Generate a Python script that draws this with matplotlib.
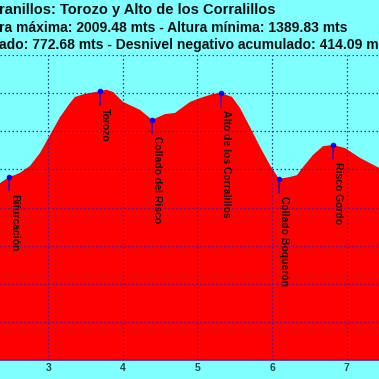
import matplotlib
matplotlib.use("Agg")
import matplotlib.pyplot as plt

plt.rcParams['font.family'] = ['Liberation Sans', 'DejaVu Sans']

# perfil: distancia (km) y altura (m)
distance = [2.30, 2.353, 2.474, 2.55, 2.62, 2.755, 2.889, 3.023, 3.157, 3.291,
            3.358, 3.492, 3.694, 3.78, 3.868, 4.002, 4.230, 4.391, 4.565, 4.699,
            4.900, 5.034, 5.208, 5.316, 5.463, 5.570, 5.704, 5.838, 5.972, 6.093,
            6.240, 6.334, 6.415, 6.549, 6.683, 6.817, 6.978, 7.179, 7.433, 7.50]
elevation = [1752, 1764, 1780, 1785, 1791, 1809, 1843, 1890, 1937, 1974,
             1990, 1998, 2005, 2009, 2003, 1977, 1956, 1930, 1945, 1948,
             1977, 1987, 1998, 2000, 1990, 1961, 1911, 1859, 1811, 1775,
             1780, 1785, 1806, 1838, 1861, 1864, 1856, 1830, 1804, 1795]

# puntos de paso
wp_names = ["Bifurcación", "Torozo", "Collado del Risco",
            "Alto de los Corralillos", "Collado Boquerón", "Risco Gordo"]
wp_dist = [2.474, 3.694, 4.391, 5.316, 6.093, 6.817]
wp_elev = [1780, 2005, 1930, 2000, 1775, 1864]

title_lines = [
    "ranillos: Torozo y Alto de los Corralillos",
    "ra máxima: 2009.48 mts - Altura mínima: 1389.83 mts",
    "ado: 772.68 mts - Desnivel negativo acumulado: 414.09 m",
]
title_sizes = [10.5, 10, 10]
x_ticks = [3, 4, 5, 6, 7]

bg = "#80ffff"
fig = plt.figure(figsize=(3.79, 3.79), dpi=100, facecolor=bg)
ax = fig.add_axes([0, 19 / 379, 1, 305 / 379])
ax.set_facecolor(bg)

ax.fill_between(distance, elevation, 1300, color="#ff0000", lw=0, zorder=1)
ax.set_xlim(2.353, 7.433)
ax.set_ylim(1300, 2100)

ax.set_xticks(x_ticks)
ax.set_yticks(range(1300, 2101, 100))
ax.grid(True, color="#2020e0", linestyle=(0, (1.2, 2)), lw=0.9, zorder=2)
ax.set_axisbelow(False)
ax.tick_params(length=0, labelsize=7.5, labelcolor="#1e4a4a", pad=2)
for lab in ax.get_xticklabels():
    lab.set_fontweight("bold")
ax.tick_params(axis="y", labelleft=False)
for side in ["top", "left", "right"]:
    ax.spines[side].set_visible(False)
ax.spines["bottom"].set_color("#5028a0")
ax.spines["bottom"].set_linewidth(1.2)

ax.scatter(wp_dist, wp_elev, s=9, color="#0000ff", zorder=4)
for name, x, y in zip(wp_names, wp_dist, wp_elev):
    ax.annotate(name, xy=(x, y), xytext=(0, -12), textcoords="offset points",
                rotation=270, ha="left", va="top", fontsize=7.5,
                fontweight="bold", color="#111111", zorder=5,
                arrowprops=dict(arrowstyle="-", color="#0000ff", lw=0.9,
                                shrinkA=0, shrinkB=0, relpos=(0, 1)))

for i, line in enumerate(title_lines):
    fig.text(-0.003, 1 - (10 + 17.5 * i) / 379, line, ha="left", va="center",
             fontsize=title_sizes[i], fontweight="bold", color="#111111")

fig.savefig("out.png", dpi=100, facecolor=bg)
